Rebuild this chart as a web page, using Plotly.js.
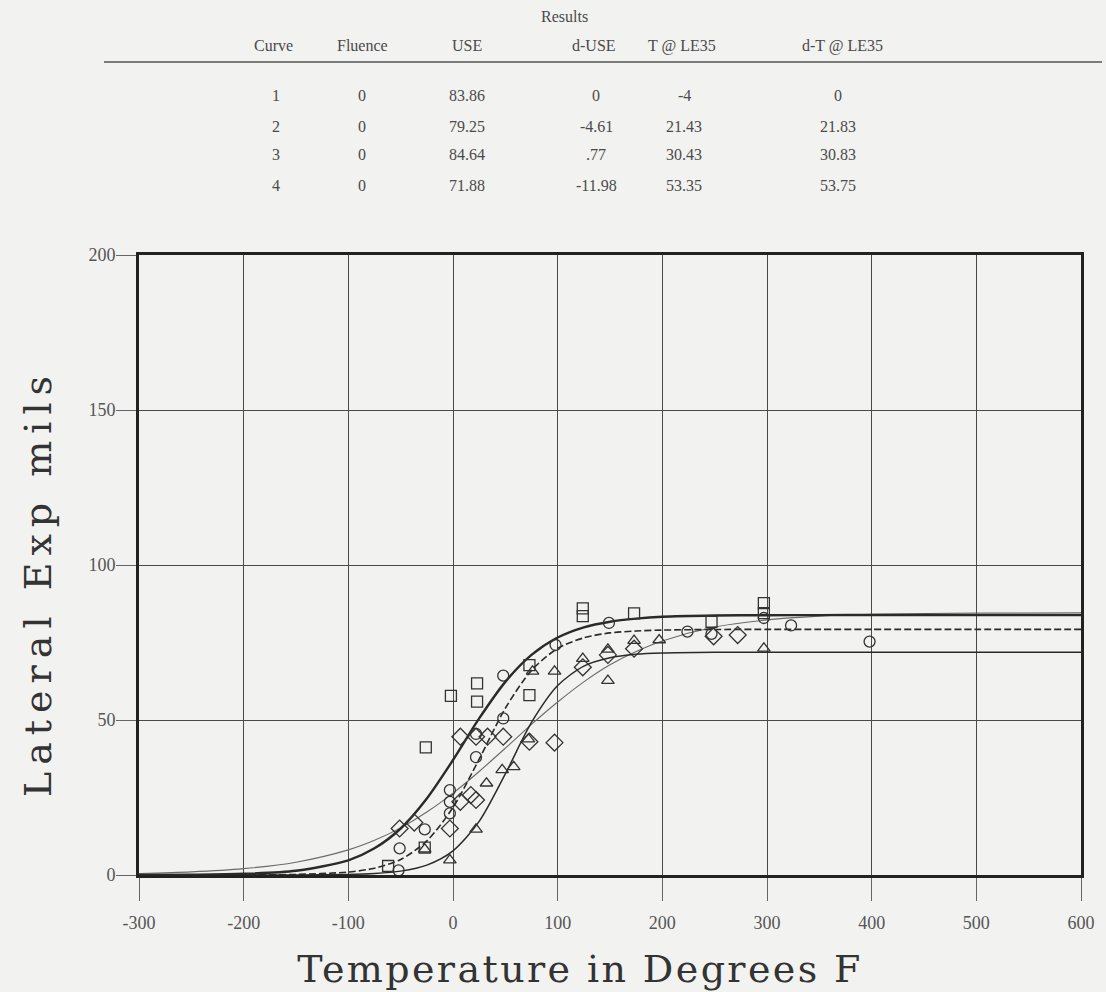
<!DOCTYPE html>
<html>
<head>
<meta charset="utf-8">
<script src="https://cdn.plot.ly/plotly-3.0.1.min.js"></script>
<style>
  html, body { margin: 0; padding: 0; background: #f2f2f0; }
  #chart { width: 1106px; height: 992px; }
  .xtitle { letter-spacing: 2.4px; }
  .ytitle { letter-spacing: 7px; }
  .g-xtitle { transform: translate(-30px, 0px); }
  .g-ytitle { transform: translate(0px, 18px); }
</style>
</head>
<body>
<div id="chart"></div>
<script>
// ---- Data ----
// Fitted curves (Lateral expansion vs temperature), read at these temperatures
const curveT = [-300, -250, -200, -150, -100, -75, -50, -25, 0, 25, 50, 75, 100, 125, 150, 175, 200, 250, 300, 350, 400, 500, 600];
const curve1 = [0.03, 0.10, 0.38, 1.37, 4.75, 8.6, 15.0, 24.7, 37.1, 50.5, 62.3, 71.0, 76.6, 79.9, 81.7, 82.7, 83.3, 83.7, 83.8, 83.84, 83.86, 83.86, 83.86];
const curve2 = [0.0, 0.01, 0.03, 0.17, 0.96, 2.2, 5.0, 11.0, 21.8, 37.4, 53.8, 66.0, 73.1, 76.5, 78.1, 78.7, 79.0, 79.2, 79.24, 79.25, 79.25, 79.25, 79.25];
const curve3 = [0.49, 1.0, 2.05, 4.13, 8.1, 11.2, 15.2, 20.3, 26.4, 33.4, 40.9, 48.6, 55.8, 62.3, 67.8, 72.1, 75.5, 80.0, 82.3, 83.5, 84.1, 84.5, 84.6];
const curve4 = [0.0, 0.0, 0.0, 0.03, 0.19, 0.49, 1.25, 3.2, 7.8, 17.3, 32.6, 49.2, 61.1, 67.4, 70.1, 71.2, 71.6, 71.84, 71.88, 71.88, 71.88, 71.88, 71.88];

// Measured points (open markers)
const circleT = [-52, -51, -27, -3, -3, -3, 22, 22, 48, 48, 98, 149, 224, 247, 297, 323, 398];
const circleLE = [1.5, 8.6, 14.7, 19.9, 23.6, 27.4, 38, 45.5, 50.5, 64.3, 74.2, 81.3, 78.5, 77.8, 82.9, 80.5, 75.3];

const squareT = [-62, -27, -26, -2, 23, 23, 73, 73, 124, 124, 173, 247, 297, 297];
const squareLE = [2.9, 8.8, 41.2, 57.8, 61.8, 55.9, 67.7, 58, 86, 83.5, 84.4, 81.7, 87.7, 84.5];

const triangleT = [-3, -27, 22, 32, 47, 58, 72, 76, 97, 124, 148, 148, 173, 197, 297];
const triangleLE = [4.8, 8.3, 14.7, 29.6, 33.9, 34.9, 43.8, 65.7, 65.7, 69.8, 72.8, 62.7, 75.6, 75.8, 73.1];

const diamondT = [-51, -37, -3, 7, 17, 22, 7, 22, 33, 48, 73, 97, 124, 148, 173, 249, 272];
const diamondLE = [15, 16.9, 15, 23.6, 25.8, 24.2, 44.6, 44.6, 44.6, 44.6, 43, 42.7, 67, 71, 73, 77, 77.4];

// Results table
const tableTitle = "Results";
const tableHeaders = ["Curve", "Fluence", "USE", "d-USE", "T @ LE35", "d-T @ LE35"];
const colCurve = ["1", "2", "3", "4"];
const colFluence = ["0", "0", "0", "0"];
const colUSE = ["83.86", "79.25", "84.64", "71.88"];
const colDUSE = ["0", "-4.61", ".77", "-11.98"];
const colT = ["-4", "21.43", "30.43", "53.35"];
const colDT = ["0", "21.83", "30.83", "53.75"];

const xTicks = [-300, -200, -100, 0, 100, 200, 300, 400, 500, 600];
const yTicks = [0, 50, 100, 150, 200];

// ---- Drawing ----
const ink = '#2a2a2a';
const traces = [
  {x: curveT, y: curve3, mode: 'lines', line: {color: '#6a6a6a', width: 1.1, shape: 'spline', smoothing: 0.8}, name: 'Curve 3'},
  {x: curveT, y: curve4, mode: 'lines', line: {color: ink, width: 1.5, shape: 'spline', smoothing: 0.8}, name: 'Curve 4'},
  {x: curveT, y: curve2, mode: 'lines', line: {color: ink, width: 1.6, dash: '7px,3px', shape: 'spline', smoothing: 0.8}, name: 'Curve 2'},
  {x: curveT, y: curve1, mode: 'lines', line: {color: ink, width: 2.4, shape: 'spline', smoothing: 0.8}, name: 'Curve 1'},
  {x: circleT, y: circleLE, mode: 'markers', marker: {symbol: 'circle-open', size: 11, color: '#333', line: {width: 1.3}}, name: 'circles'},
  {x: squareT, y: squareLE, mode: 'markers', marker: {symbol: 'square-open', size: 11, color: '#333', line: {width: 1.3}}, name: 'squares'},
  {x: triangleT, y: triangleLE, mode: 'markers', marker: {symbol: 'triangle-up-open', size: 11, color: '#333', line: {width: 1.3}}, name: 'triangles'},
  {x: diamondT, y: diamondLE, mode: 'markers', marker: {symbol: 'diamond-open', size: 13, color: '#333', line: {width: 1.3}}, name: 'diamonds'}
];

// plot box in pixels
const L = 139, R = 1081, T = 255, B = 875;
const px2x = p => (p - L) / (R - L);
const py2y = p => (B - p) / (B - T);

const tfont = {family: '"Liberation Serif", "DejaVu Serif", serif', size: 16, color: '#4a4a4a'};
const annotations = [];
annotations.push({text: tableTitle, x: px2x(564), y: py2y(16), xref: 'paper', yref: 'paper', showarrow: false, xanchor: 'center', yanchor: 'middle', font: tfont});
const headX = [273, 362, 467, 594, 682, 842];
tableHeaders.forEach((h, i) => annotations.push({text: h, x: px2x(headX[i]), y: py2y(46), xref: 'paper', yref: 'paper', showarrow: false, xanchor: 'center', yanchor: 'middle', font: tfont}));
const cols = [colCurve, colFluence, colUSE, colDUSE, colT, colDT];
const colX = [276, 362, 467, 596, 684, 838];
const rowY = [95, 126, 155, 186];
cols.forEach((col, c) => col.forEach((v, r) => annotations.push({text: v, x: px2x(colX[c]), y: py2y(rowY[r]), xref: 'paper', yref: 'paper', showarrow: false, xanchor: 'center', yanchor: 'middle', font: tfont})));

const shapes = [
  {type: 'line', xref: 'paper', yref: 'paper', x0: px2x(104), x1: px2x(1102), y0: py2y(62), y1: py2y(62), line: {color: '#555', width: 1.5}}
];

const tickFont = {family: '"Liberation Serif", "DejaVu Serif", serif', size: 18, color: '#555'};
const titleFont = {family: '"DejaVu Serif", "Liberation Serif", serif', size: 38, color: '#333'};

const layout = {
  width: 1106, height: 992,
  margin: {l: L, r: 1106 - R, t: T, b: 992 - B, pad: 0},
  paper_bgcolor: '#f2f2f0', plot_bgcolor: '#f2f2f0',
  showlegend: false,
  xaxis: {
    range: [-300, 600], tickvals: xTicks, ticktext: xTicks.map(String),
    showgrid: true, gridcolor: '#4a4a4a', gridwidth: 1, zeroline: false,
    showline: true, mirror: true, linecolor: '#222', linewidth: 3,
    ticks: 'outside', ticklen: 23, tickcolor: '#666', tickwidth: 1,
    ticklabelstandoff: 6,
    tickfont: tickFont, automargin: false,
    title: {text: 'Temperature in Degrees F', font: titleFont, standoff: 24}
  },
  yaxis: {
    range: [0, 200], tickvals: yTicks, ticktext: yTicks.map(String),
    showgrid: true, gridcolor: '#4a4a4a', gridwidth: 1, zeroline: false,
    showline: true, mirror: true, linecolor: '#222', linewidth: 3,
    ticks: 'outside', ticklen: 20, tickcolor: '#666', tickwidth: 1,
    ticklabelstandoff: -3,
    tickfont: tickFont, automargin: false,
    title: {text: 'Lateral Exp mils', font: titleFont, standoff: 26}
  },
  annotations: annotations,
  shapes: shapes
};

Plotly.newPlot('chart', traces, layout, {displayModeBar: false, staticPlot: true});
</script>
</body>
</html>
